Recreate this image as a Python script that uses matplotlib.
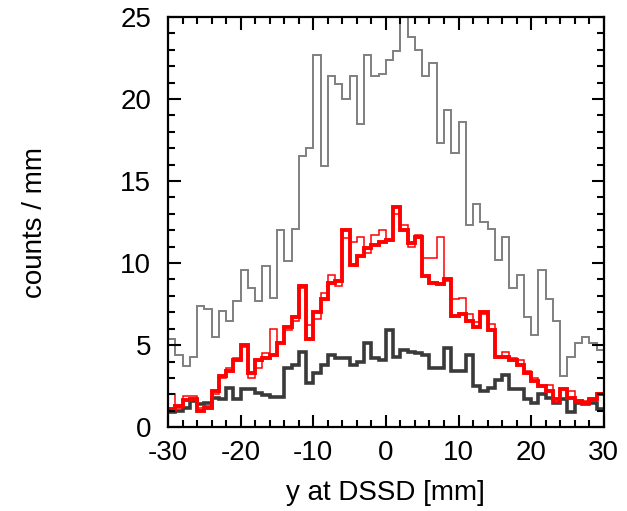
import numpy as np
import matplotlib
matplotlib.use("Agg")
import matplotlib.pyplot as plt
from matplotlib.ticker import MultipleLocator

plt.rcParams['font.family'] = ['Liberation Sans', 'DejaVu Sans']
plt.rcParams['axes.unicode_minus'] = False

# 1 mm bins from -30 to 30 mm
bin_edges = np.arange(-30, 31, 1)

# total counts / mm (thin grey)
total = [5.4, 4.4, 3.7, 4.3, 7.4, 7.2, 5.5, 7.1, 6.5, 7.7,
         9.6, 8.5, 7.7, 9.8, 7.9, 12.0, 10.1, 12.1, 16.5, 17.0,
         22.7, 15.9, 21.4, 20.9, 20.0, 21.4, 18.5, 22.7, 21.4, 21.5,
         22.4, 22.9, 25.5, 23.8, 23.0, 21.4, 22.2, 17.3, 19.3, 16.7,
         18.6, 12.3, 13.6, 12.5, 12.1, 10.2, 11.6, 8.5, 9.3, 6.7,
         5.6, 9.6, 7.8, 6.5, 3.1, 4.3, 5.1, 5.5, 5.1, 4.7]

# selected counts, measured (thick red)
selected = [1.1, 1.3, 1.65, 1.7, 1.0, 1.2, 2.2, 3.1, 3.4, 4.1,
            5.0, 3.3, 4.1, 4.2, 4.4, 5.1, 6.1, 6.7, 8.6, 5.4,
            7.0, 7.8, 8.8, 8.9, 12.0, 9.9, 10.4, 10.9, 11.1, 11.3,
            11.4, 13.4, 12.0, 11.2, 11.6, 9.2, 8.8, 8.7, 9.0, 6.8,
            6.9, 6.5, 6.1, 7.0, 5.9, 4.3, 4.3, 4.1, 3.8, 3.3,
            2.8, 2.5, 2.2, 1.7, 2.3, 1.8, 1.6, 1.5, 1.7, 2.0]

# selected counts, alternative (thin red)
selected_alt = [2.0, 1.2, 1.9, 1.9, 1.2, 1.3, 2.0, 3.0, 3.6, 4.2,
                4.9, 3.0, 3.6, 4.5, 6.0, 5.2, 5.9, 6.5, 8.5, 6.2,
                6.6, 8.2, 9.3, 8.6, 11.5, 11.3, 11.6, 10.6, 11.7, 12.0,
                11.4, 13.0, 12.3, 11.0, 11.7, 10.3, 10.3, 11.6, 8.9, 7.8,
                7.9, 6.9, 6.4, 6.9, 6.3, 4.3, 4.6, 4.2, 4.1, 3.4,
                3.0, 2.5, 2.6, 1.5, 2.3, 2.2, 1.5, 1.6, 1.6, 2.1]

# background counts (thick dark grey)
background = [0.95, 1.0, 1.2, 1.6, 1.4, 1.5, 1.8, 1.7, 2.4, 1.7,
              2.3, 2.3, 2.1, 1.95, 1.85, 1.85, 3.6, 3.8, 4.6, 2.7,
              3.3, 3.8, 4.4, 4.2, 4.2, 3.8, 4.0, 5.1, 4.2, 4.1,
              5.9, 4.3, 4.7, 4.6, 4.5, 4.4, 3.6, 3.6, 4.8, 3.4,
              3.4, 4.4, 2.5, 2.2, 2.4, 2.9, 3.2, 2.3, 2.3, 1.7,
              1.5, 2.0, 1.8, 1.5, 1.7, 0.9, 1.5, 1.4, 1.5, 1.1]

x_ticks = [-30, -20, -10, 0, 10, 20, 30]
y_ticks = [0, 5, 10, 15, 20, 25]

fig = plt.figure(figsize=(6.27, 5.11), dpi=100)
ax = fig.add_axes([0.268, 0.164, 0.695, 0.803])

ax.stairs(total, bin_edges, baseline=None, color='#7f7f7f', linewidth=1.4)
ax.stairs(background, bin_edges, baseline=None, color='#3a3a3a', linewidth=2.6)
ax.stairs(selected, bin_edges, baseline=None, color='#ff0000', linewidth=2.8)
ax.stairs(selected_alt, bin_edges, baseline=None, color='#ff0000', linewidth=1.1)

ax.set_xlim(-30, 30)
ax.set_ylim(0, 25)
ax.set_xticks(x_ticks)
ax.set_yticks(y_ticks)
ax.xaxis.set_minor_locator(MultipleLocator(2))
ax.yaxis.set_minor_locator(MultipleLocator(1))

for spine in ax.spines.values():
    spine.set_linewidth(1.6)

ax.tick_params(which='both', direction='in', top=True, right=True,
               width=1.5, colors='black')
ax.tick_params(which='major', length=9)
ax.tick_params(which='minor', length=5)
ax.tick_params(axis='x', which='major', labelsize=20, pad=9)
ax.tick_params(axis='y', which='major', labelsize=20, pad=12)

ax.set_xlabel('y at DSSD [mm]', fontsize=20, labelpad=10)
ax.set_ylabel('counts / mm', fontsize=20, labelpad=52)

fig.savefig('out.png', dpi=100)
